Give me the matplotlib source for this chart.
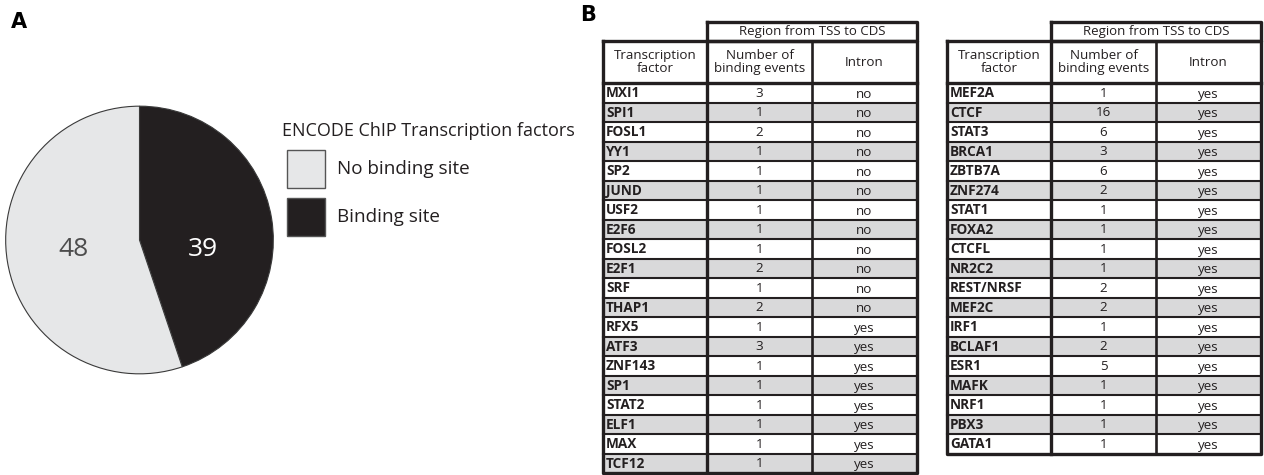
import matplotlib
matplotlib.use("Agg")
import matplotlib.pyplot as plt
from matplotlib.patches import Rectangle

plt.rcParams['font.family'] = ['Open Sans', 'DejaVu Sans']

## DATA ##
pie_labels = ["Binding site", "No binding site"]
pie_values = [39, 48]
pie_colors = ["#231f20", "#e6e7e8"]
legend_title = "ENCODE ChIP Transcription factors"

span_header = "Region from TSS to CDS"
col_headers = ["Transcription\nfactor", "Number of\nbinding events", "Intron"]

left_tf = ["MXI1", "SPI1", "FOSL1", "YY1", "SP2", "JUND", "USF2", "E2F6", "FOSL2", "E2F1",
           "SRF", "THAP1", "RFX5", "ATF3", "ZNF143", "SP1", "STAT2", "ELF1", "MAX", "TCF12"]
left_n = [3, 1, 2, 1, 1, 1, 1, 1, 1, 2, 1, 2, 1, 3, 1, 1, 1, 1, 1, 1]
left_intron = ["no", "no", "no", "no", "no", "no", "no", "no", "no", "no", "no", "no",
               "yes", "yes", "yes", "yes", "yes", "yes", "yes", "yes"]

right_tf = ["MEF2A", "CTCF", "STAT3", "BRCA1", "ZBTB7A", "ZNF274", "STAT1", "FOXA2", "CTCFL",
            "NR2C2", "REST/NRSF", "MEF2C", "IRF1", "BCLAF1", "ESR1", "MAFK", "NRF1", "PBX3", "GATA1"]
right_n = [1, 16, 6, 3, 6, 2, 1, 1, 1, 1, 2, 2, 1, 2, 5, 1, 1, 1, 1]
right_intron = ["yes"] * 19

W, H = 1264, 475
fig = plt.figure(figsize=(W / 100, H / 100), dpi=100)

# overlay axes in pixel coords for tables, legend, panel letters
ov = fig.add_axes([0, 0, 1, 1])
ov.set_xlim(0, W)
ov.set_ylim(H, 0)
ov.axis('off')

ov.text(11, 22, "A", fontsize=15, fontweight='bold', family='DejaVu Sans', va='center')
ov.text(580, 15, "B", fontsize=15, fontweight='bold', family='DejaVu Sans', va='center')

# pie
pax = fig.add_axes([5 / W, (H - 374.5) / H, 269 / W, 269 / H])
wedges, _ = pax.pie(pie_values, colors=pie_colors, startangle=90, counterclock=False,
                    wedgeprops=dict(edgecolor="#3a3a3a", linewidth=0.8))
pax.set_xlim(-1.005, 1.005)
pax.set_ylim(-1.005, 1.005)
pax.set_aspect('equal')
pax.text(0.47, -0.07, str(pie_values[0]), color='white', fontsize=19, ha='center', va='center')
pax.text(-0.49, -0.07, str(pie_values[1]), color='#4d4d4d', fontsize=19, ha='center', va='center')

# legend
ov.text(282, 131, legend_title, fontsize=13, va='center', ha='left', color='#231f20')
for i, (lab, col) in enumerate(zip(pie_labels[::-1], pie_colors[::-1])):
    y0 = 150 + i * 48
    ov.add_patch(Rectangle((287, y0), 38, 38, facecolor=col, edgecolor='#555555', lw=1.0))
    ov.text(337, y0 + 19, lab, fontsize=13.6, va='center', ha='left', color='#231f20')


def draw_table(x0, tfs, nums, introns):
    cw = [104, 105, 105]
    top1, top2, top3 = 22, 41, 83
    rh = 19.5
    xs = [x0, x0 + cw[0], x0 + cw[0] + cw[1], x0 + sum(cw)]
    nrow = len(tfs)
    bottom = top3 + nrow * rh
    thick, thin = 2.4, 1.5
    # rows shading
    for i in range(nrow):
        y = top3 + i * rh
        fc = '#d9d9da' if i % 2 == 1 else 'white'
        ov.add_patch(Rectangle((xs[0], y), xs[3] - xs[0], rh, facecolor=fc, edgecolor='none'))
        ov.text(xs[0] + 3, y + rh / 2 + 0.5, tfs[i], fontsize=9.8, fontweight='bold',
                va='center', ha='left', color='#231f20')
        ov.text((xs[1] + xs[2]) / 2, y + rh / 2 + 0.5, str(nums[i]), fontsize=9.6,
                va='center', ha='center', color='#231f20')
        ov.text((xs[2] + xs[3]) / 2, y + rh / 2 + 1.5, introns[i], fontsize=9.6,
                va='center', ha='center', color='#231f20')
        if i > 0:
            ov.plot([xs[0], xs[3]], [y, y], color='#231f20', lw=thin)
    # header texts
    ov.text((xs[1] + xs[3]) / 2, (top1 + top2) / 2, span_header, fontsize=9.5,
            va='center', ha='center', color='#231f20')
    for j in range(3):
        ov.text((xs[j] + xs[j + 1]) / 2, (top2 + top3) / 2, col_headers[j], fontsize=9.6,
                va='center', ha='center', color='#231f20', linespacing=1.0)
    # grid lines
    ov.plot([xs[1], xs[3], xs[3], xs[1], xs[1]], [top1, top1, top2, top2, top1],
            color='#231f20', lw=thick)
    ov.plot([xs[0], xs[3], xs[3], xs[0], xs[0]], [top2, top2, bottom, bottom, top2],
            color='#231f20', lw=thick)
    ov.plot([xs[0], xs[3]], [top3, top3], color='#231f20', lw=thick)
    ov.plot([xs[1], xs[1]], [top2, bottom], color='#231f20', lw=thick)
    ov.plot([xs[2], xs[2]], [top2, bottom], color='#231f20', lw=thin + 0.4)


draw_table(603, left_tf, left_n, left_intron)
draw_table(947, right_tf, right_n, right_intron)

fig.savefig("out.png", dpi=100)
